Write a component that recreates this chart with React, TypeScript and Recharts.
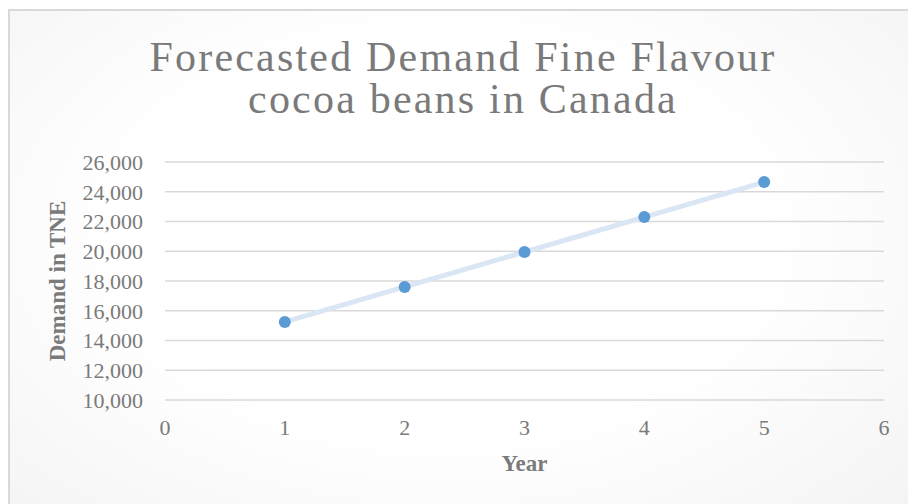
import React from "react";
import {
  ScatterChart,
  Scatter,
  XAxis,
  YAxis,
  CartesianGrid,
} from "recharts";

const years = [1, 2, 3, 4, 5];
const demand = [15250, 17600, 19950, 22300, 24650];
const xTicks = [0, 1, 2, 3, 4, 5, 6];
const yTicks = [10000, 12000, 14000, 16000, 18000, 20000, 22000, 24000, 26000];
const titleLines = ["Forecasted Demand Fine Flavour", "cocoa beans in Canada"];
const xTitle = "Year";
const yTitle = "Demand in TNE";

const data = years.map((y, i) => ({ year: y, demand: demand[i] }));

const FONT = '"Liberation Serif", "Times New Roman", serif';
const TEXT = "#7a7a7a";

const Dot = (props: any) => {
  const { cx, cy } = props;
  if (cx == null || cy == null) return null;
  return <circle cx={cx} cy={cy} r={6} fill="#5b9bd5" />;
};

export default function App() {
  return (
    <div
      style={{
        position: "fixed",
        left: 0,
        top: 0,
        width: 908,
        height: 504,
        overflow: "hidden",
        background: "#ffffff",
      }}
    >
      <div
        style={{
          position: "absolute",
          left: 8,
          top: 9,
          width: 960,
          height: 560,
          borderLeft: "2px solid #d9d9d9",
          borderTop: "2px solid #d9d9d9",
          background:
            "radial-gradient(ellipse 75% 80% at 45% 40%, #ffffff 45%, #f1f1f1 100%)",
        }}
      />
      <div
        style={{
          position: "absolute",
          left: 0,
          top: 36,
          width: 926,
          textAlign: "center",
          fontFamily: FONT,
          fontSize: 42,
          lineHeight: "42px",
          letterSpacing: 2.2,
          color: TEXT,
        }}
      >
        {titleLines.map((t) => (
          <div key={t}>{t}</div>
        ))}
      </div>
      <div style={{ position: "absolute", left: 0, top: 0 }}>
        <ScatterChart
          width={908}
          height={504}
          margin={{ top: 162, right: 24, bottom: 0, left: 0 }}
          style={{ fontFamily: FONT }}
        >
          <CartesianGrid
            horizontal={true}
            vertical={false}
            stroke="#d9d9d9"
            strokeWidth={1.5}
          />
          <XAxis
            type="number"
            dataKey="year"
            domain={[0, 6]}
            ticks={xTicks}
            interval={0}
            height={104}
            axisLine={false}
            tickLine={false}
            tickSize={0}
            tickMargin={19}
            tick={{ fill: TEXT, fontSize: 22, fontFamily: FONT }}
            label={{
              value: xTitle,
              position: "center",
              dy: 11,
              fill: TEXT,
              fontSize: 23,
              fontWeight: "bold",
              fontFamily: FONT,
            }}
          />
          <YAxis
            type="number"
            dataKey="demand"
            domain={[10000, 26000]}
            ticks={yTicks}
            interval={0}
            width={165}
            axisLine={false}
            tickLine={false}
            tickSize={0}
            tickMargin={22}
            tickFormatter={(v: number) => v.toLocaleString("en-US")}
            tick={{ fill: TEXT, fontSize: 22, fontFamily: FONT }}
            label={{
              value: yTitle,
              angle: -90,
              position: "center",
              dx: -25.5,
              fill: TEXT,
              fontSize: 23,
              fontWeight: "bold",
              fontFamily: FONT,
            }}
          />
          <Scatter
            data={data}
            fill="#5b9bd5"
            line={{ stroke: "#dae6f3", strokeWidth: 5 }}
            shape={Dot}
            isAnimationActive={false}
          />
        </ScatterChart>
      </div>
    </div>
  );
}
